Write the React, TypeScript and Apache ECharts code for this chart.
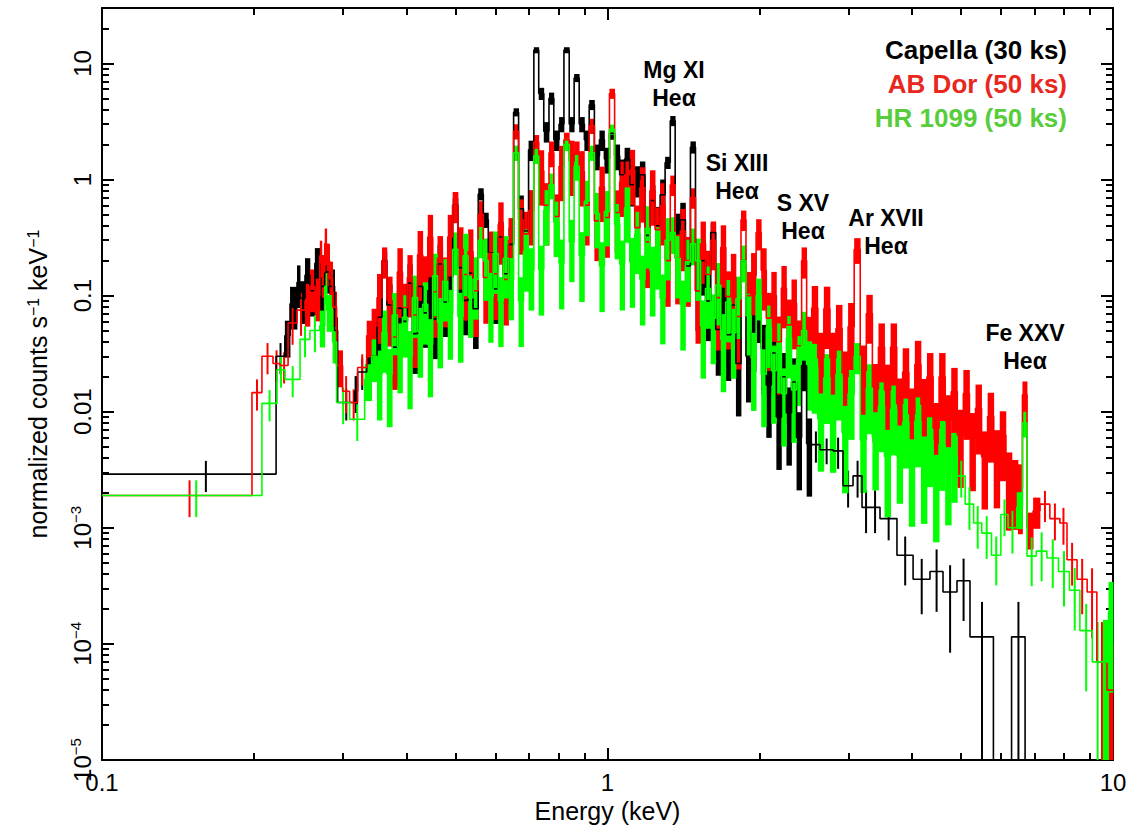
import React, { useEffect, useRef } from "react";
import * as echarts from "echarts";

// ---------- axis ticks ----------
const X_MAJOR = [0.1, 1, 10];
const Y_MAJOR = [1e-5, 1e-4, 1e-3, 0.01, 0.1, 1, 10];
const MINOR_STEPS = [2, 3, 4, 5, 6, 7, 8, 9];
const X_MINOR = [0.1, 1].flatMap((d) => MINOR_STEPS.map((m) => m * d));
const Y_MINOR = Y_MAJOR.flatMap((d) => MINOR_STEPS.map((m) => m * d)).filter((v) => v < 30);

// ---------- spectra: bin edges (keV), normalized counts s^-1 keV^-1, fractional 1-sigma errors ----------
// fine bins shared by the three spectra between 0.35 and 2.535 keV
const MID_EDGES = [
  0.350, 0.358, 0.366, 0.375, 0.384, 0.393, 0.402, 0.411, 0.421, 0.431,
  0.441, 0.451, 0.461, 0.472, 0.483, 0.494, 0.506, 0.518, 0.530, 0.542,
  0.555, 0.568, 0.581, 0.594, 0.608, 0.622, 0.637, 0.652, 0.667, 0.682,
  0.698, 0.715, 0.731, 0.748, 0.766, 0.783, 0.802, 0.820, 0.840, 0.859,
  0.879, 0.900, 0.920, 0.942, 0.964, 0.986, 1.009, 1.033, 1.057, 1.081,
  1.107, 1.132, 1.159, 1.186, 1.213, 1.242, 1.271, 1.300, 1.331, 1.361,
  1.393, 1.426, 1.459, 1.493, 1.528, 1.563, 1.600, 1.637, 1.675, 1.714,
  1.754, 1.795, 1.837, 1.879, 1.923, 1.968, 2.014, 2.061, 2.109, 2.158,
  2.208, 2.259, 2.312, 2.366, 2.421, 2.477, 2.535,
];

// Capella (30 ks)
const CAPELLA_LOW_EDGES = [0.1, 0.221, 0.23, 0.2355, 0.2431, 0.2465, 0.2521, 0.2578, 0.2637, 0.2697, 0.2758, 0.282, 0.2885, 0.2925, 0.316, 0.3204, 0.3339, 0.3415];
const CAPELLA_LOW = [0.0029, 0.03, 0.045, 0.085, 0.13, 0.095, 0.15, 0.11, 0.19, 0.12, 0.16, 0.12, 0.05, 0.012, 0.015, 0.022, 0.028, 0.03];
const CAPELLA_LOW_ERR = [0.3, 0.3, 0.35, 0.4, 0.4, 0.4, 0.4, 0.4, 0.35, 0.4, 0.35, 0.4, 0.3, 0.3, 0.35, 0.3, 0.3, 0.3];
const CAPELLA_MID = [
  0.065, 0.2, 0.083, 0.036, 0.078, 0.06, 0.128, 0.047, 0.12, 0.071,
  0.11, 0.063, 0.187, 0.088, 0.144, 0.6, 0.174, 0.091, 0.156, 0.077,
  0.75, 0.45, 0.234, 0.114, 0.32, 0.154, 0.276, 3.8, 0.56, 0.36,
  1.8, 13, 5.5, 2.6, 5.0, 2.2, 3.0, 13, 3.0, 7.5,
  3.0, 2.2, 4.4, 1.6, 2.2, 1.5, 2.5, 1.6, 1.1, 1.5,
  0.9, 1.0, 1.1, 0.33, 0.66, 0.4, 0.74, 1.4, 3.2, 0.35,
  0.45, 0.18, 1.9, 0.11, 0.2, 0.09, 0.35, 0.051, 0.1, 0.046,
  0.083, 0.026, 0.2, 0.03, 0.049, 0.06, 0.035, 0.017, 0.032, 0.009,
  0.02, 0.0098, 0.018, 0.006, 0.025, 0.0053,
];
const CAPELLA_MID_ERR = [
  0.5, 0.2, 0.5, 0.55, 0.5, 0.5, 0.45, 0.55, 0.5, 0.5, 0.45, 0.55, 0.45, 0.5, 0.45,
  0.15, 0.45, 0.5, 0.45, 0.55, 0.12, 0.15, 0.45, 0.5, 0.35, 0.45, 0.4, 0.08, 0.3, 0.4,
  0.2, 0.06, 0.12, 0.2, 0.12, 0.2, 0.15, 0.06, 0.15, 0.08, 0.15, 0.2, 0.1, 0.25, 0.2,
  0.25, 0.12, 0.25, 0.35, 0.25, 0.35, 0.3, 0.3, 0.45, 0.35, 0.45, 0.35, 0.12, 0.1, 0.45,
  0.4, 0.5, 0.12, 0.55, 0.5, 0.55, 0.2, 0.6, 0.5, 0.6, 0.5, 0.65, 0.25, 0.6, 0.55,
  0.35, 0.6, 0.65, 0.55, 0.65, 0.6, 0.65, 0.6, 0.65, 0.4, 0.65,
];
const CAPELLA_HIGH_EDGES = [2.633, 2.794, 2.924, 3.06, 3.188, 3.306, 3.46, 3.738, 4.023, 4.345, 4.61, 4.913, 5.213, 5.8, 6.3, 6.7, 6.85];
const CAPELLA_HIGH = [0.0052, 0.0047, 0.0046, 0.0023, 0.0028, 0.0015, 0.0015, 0.0012, 0.00058, 0.00036, 0.00042, 0.00028, 0.00035, 0.000115, 0.000001, 0.000115, 0.000001];
const CAPELLA_HIGH_ERR = [0.3, 0.25, 0.3, 0.35, 0.35, 0.4, 0.4, 0.35, 0.45, 0.5, 0.55, 0.7, 0.55, 1.0, 0, 1.0, 0];

// AB Dor (50 ks)
const ABDOR_LOW_EDGES = [0.1, 0.198, 0.2072, 0.2179, 0.225, 0.2334, 0.2431, 0.2521, 0.2578, 0.2637, 0.2697, 0.2722, 0.2758, 0.2783, 0.282, 0.2859, 0.2911, 0.2992, 0.3089, 0.3204, 0.3339, 0.3415];
const ABDOR_LOW = [0.0019, 0.0146, 0.03, 0.026, 0.025, 0.058, 0.075, 0.09, 0.12, 0.1, 0.22, 0.16, 0.28, 0.2, 0.14, 0.08, 0.025, 0.015, 0.012, 0.024, 0.045, 0.055];
const ABDOR_LOW_ERR = [0.35, 0.3, 0.3, 0.3, 0.3, 0.35, 0.4, 0.4, 0.4, 0.4, 0.35, 0.4, 0.35, 0.4, 0.4, 0.35, 0.35, 0.35, 0.3, 0.3, 0.35, 0.4];
const ABDOR_MID = [
  0.096, 0.2, 0.091, 0.044, 0.16, 0.079, 0.144, 0.068, 0.225, 0.136,
  0.32, 0.108, 0.21, 0.133, 0.32, 0.6, 0.25, 0.152, 0.24, 0.11,
  0.5, 0.143, 0.23, 0.154, 0.41, 0.138, 0.3, 2.6, 0.45, 0.34,
  0.54, 2.1, 1.19, 0.6, 1.7, 0.48, 1.3, 2.2, 1.44, 1.7,
  1.17, 0.6, 2.9, 0.44, 0.86, 0.47, 5.5, 0.52, 0.95, 1.1,
  1.2, 0.385, 0.85, 0.29, 0.8, 0.37, 0.6, 0.2, 0.9, 0.21,
  0.36, 0.2, 0.7, 0.11, 0.28, 0.152, 0.3, 0.096, 0.26, 0.098,
  0.143, 0.066, 0.45, 0.1, 0.15, 0.35, 0.165, 0.064, 0.1, 0.04,
  0.116, 0.056, 0.086, 0.037, 0.2, 0.041,
];
const ABDOR_MID_ERR = [
  0.6, 0.3, 0.6, 0.65, 0.6, 0.6, 0.55, 0.65, 0.6, 0.6, 0.55, 0.6, 0.55, 0.6, 0.55,
  0.3, 0.55, 0.6, 0.55, 0.6, 0.3, 0.6, 0.55, 0.6, 0.55, 0.6, 0.55, 0.15, 0.5, 0.55,
  0.5, 0.15, 0.5, 0.55, 0.25, 0.55, 0.5, 0.15, 0.5, 0.25, 0.5, 0.55, 0.15, 0.55, 0.5,
  0.55, 0.1, 0.55, 0.5, 0.3, 0.5, 0.55, 0.5, 0.6, 0.5, 0.55, 0.55, 0.6, 0.2, 0.6,
  0.55, 0.6, 0.2, 0.65, 0.55, 0.6, 0.45, 0.65, 0.55, 0.65, 0.6, 0.65, 0.2, 0.6, 0.55,
  0.3, 0.55, 0.65, 0.6, 0.65, 0.55, 0.65, 0.6, 0.65, 0.3, 0.6,
];
const ABDOR_HIGH_EDGES = [
  2.606, 2.679, 2.754, 2.831, 2.911, 2.992, 3.076, 3.162, 3.251, 3.342,
  3.436, 3.532, 3.631, 3.733, 3.837, 3.945, 4.055, 4.169, 4.285, 4.406,
  4.529, 4.656, 4.786, 4.92, 5.058, 5.2, 5.346, 5.495, 5.649, 5.808,
  5.97, 6.138, 6.31, 6.486, 6.62, 6.76, 6.95, 7.17, 7.5, 7.85,
  8.11, 8.49, 8.89, 9.29, 9.73, 10.0,
];
const ABDOR_HIGH = [
  0.078, 0.029, 0.077, 0.029, 0.052, 0.02, 0.054, 0.25, 0.0225, 0.07,
  0.0156, 0.036, 0.0154, 0.036, 0.0117, 0.022, 0.0096, 0.0255, 0.0116, 0.02,
  0.0072, 0.02, 0.0084, 0.0149, 0.0063, 0.0143, 0.0059, 0.0107, 0.0041, 0.0091,
  0.0042, 0.0063, 0.0027, 0.0024, 0.0022, 0.014, 0.001, 0.0014, 0.0016, 0.0012,
  0.0011, 0.00053, 0.00036, 0.00028, 0.00007, 0.00004,
];
const ABDOR_HIGH_ERR = [
  0.55, 0.65, 0.55, 0.65, 0.6, 0.65, 0.6, 0.25, 0.65, 0.45,
  0.65, 0.6, 0.65, 0.6, 0.65, 0.6, 0.65, 0.6, 0.65, 0.6,
  0.65, 0.6, 0.65, 0.6, 0.65, 0.6, 0.65, 0.6, 0.65, 0.6,
  0.65, 0.6, 0.65, 0.6, 0.6, 0.3, 0.35, 0.3, 0.3, 0.35,
  0.35, 0.4, 0.5, 0.6, 1.2, 1.5,
];

// HR 1099 (50 ks)
const HR1099_LOW_EDGES = [0.1, 0.2072, 0.2219, 0.2302, 0.2465, 0.2578, 0.2697, 0.2758, 0.2783, 0.2859, 0.2911, 0.3089, 0.3308, 0.3415];
const HR1099_LOW = [0.0019, 0.0118, 0.023, 0.019, 0.042, 0.05, 0.055, 0.12, 0.075, 0.04, 0.012, 0.0086, 0.019, 0.03];
const HR1099_LOW_ERR = [0.35, 0.3, 0.3, 0.3, 0.3, 0.35, 0.35, 0.3, 0.35, 0.35, 0.35, 0.35, 0.35, 0.4];
const HR1099_MID = [
  0.021, 0.048, 0.021, 0.068, 0.036, 0.065, 0.03, 0.096, 0.049, 0.084,
  0.038, 0.148, 0.059, 0.133, 0.07, 0.25, 0.066, 0.22, 0.096, 0.138,
  0.3, 0.2, 0.098, 0.23, 0.09, 0.21, 0.136, 1.7, 0.09, 0.24,
  0.165, 1.6, 0.168, 0.54, 0.9, 0.43, 0.19, 2.0, 0.29, 1.3,
  0.22, 0.65, 1.7, 0.51, 0.18, 0.53, 2.7, 0.41, 0.186, 0.57,
  0.196, 0.34, 0.138, 0.38, 0.165, 0.25, 0.095, 0.3, 0.35, 0.21,
  0.084, 0.195, 0.28, 0.2, 0.055, 0.115, 0.064, 0.123, 0.042, 0.088,
  0.048, 0.094, 0.2, 0.067, 0.029, 0.1, 0.021, 0.053, 0.0225, 0.036,
  0.0143, 0.043, 0.0154, 0.028, 0.05, 0.0255,
];
const HR1099_MID_ERR = [
  0.6, 0.55, 0.65, 0.55, 0.6, 0.55, 0.65, 0.55, 0.6, 0.55, 0.65, 0.55, 0.6, 0.55, 0.6,
  0.4, 0.6, 0.55, 0.55, 0.55, 0.3, 0.55, 0.6, 0.55, 0.6, 0.55, 0.55, 0.15, 0.6, 0.55,
  0.55, 0.15, 0.6, 0.5, 0.25, 0.5, 0.6, 0.12, 0.55, 0.25, 0.6, 0.5, 0.15, 0.5, 0.6,
  0.5, 0.1, 0.5, 0.6, 0.5, 0.6, 0.55, 0.6, 0.55, 0.6, 0.55, 0.6, 0.55, 0.35, 0.55,
  0.6, 0.55, 0.35, 0.55, 0.65, 0.55, 0.6, 0.55, 0.65, 0.55, 0.6, 0.55, 0.35, 0.55, 0.65,
  0.4, 0.65, 0.55, 0.65, 0.6, 0.65, 0.55, 0.65, 0.6, 0.45, 0.6,
];
const HR1099_HIGH_EDGES = [
  2.606, 2.679, 2.754, 2.831, 2.911, 2.992, 3.076, 3.162, 3.251, 3.342,
  3.436, 3.532, 3.631, 3.733, 3.837, 3.945, 4.055, 4.169, 4.285, 4.406,
  4.529, 4.656, 4.786, 4.92, 5.1, 5.3, 5.5, 5.75, 6.0, 6.2,
  6.45, 6.62, 6.76, 7.05, 7.4, 7.8, 8.2, 8.6, 9.1, 9.55,
  9.8, 10.0,
];
const HR1099_HIGH = [
  0.024, 0.0087, 0.0196, 0.0085, 0.021, 0.0066, 0.0143, 0.03, 0.0057, 0.016,
  0.006, 0.0112, 0.0041, 0.0105, 0.0046, 0.0081, 0.0034, 0.0083, 0.0036, 0.0056,
  0.0025, 0.0052, 0.003, 0.0041, 0.0028, 0.0016, 0.0011, 0.0009, 0.00058, 0.0013,
  0.001, 0.0015, 0.008, 0.00057, 0.00063, 0.00055, 0.00042, 0.00029, 0.00013, 0.00007,
  0.00007, 0.00019,
];
const HR1099_HIGH_ERR = [
  0.6, 0.65, 0.6, 0.65, 0.6, 0.7, 0.6, 0.3, 0.65, 0.6,
  0.65, 0.6, 0.7, 0.6, 0.65, 0.6, 0.7, 0.6, 0.7, 0.6,
  0.7, 0.6, 0.65, 0.6, 0.35, 0.4, 0.4, 0.4, 0.45, 0.35,
  0.4, 0.35, 0.25, 0.45, 0.45, 0.45, 0.5, 0.55, 0.7, 1.2,
  1.3, 0.8,
];

const SERIES_NAMES = ["Capella (30 ks)", "AB Dor (50 ks)", "HR 1099 (50 ks)"];
const LINE_COLORS = ["#000000", "#ff0000", "#00ff00"];
const LEGEND_COLORS = ["#000000", "#e8281e", "#58cd3c"];
const LINE_LABELS = [
  ["Mg XI", "Heα"],
  ["Si XIII", "Heα"],
  ["S XV", "Heα"],
  ["Ar XVII", "Heα"],
  ["Fe XXV", "Heα"],
];

const FONT = "'Liberation Sans', Arial, Helvetica, sans-serif";

const SPECTRA = [
  {
    edges: [...CAPELLA_LOW_EDGES, ...MID_EDGES, ...CAPELLA_HIGH_EDGES],
    values: [...CAPELLA_LOW, ...CAPELLA_MID, ...CAPELLA_HIGH],
    errs: [...CAPELLA_LOW_ERR, ...CAPELLA_MID_ERR, ...CAPELLA_HIGH_ERR],
  },
  {
    edges: [...ABDOR_LOW_EDGES, ...MID_EDGES, ...ABDOR_HIGH_EDGES],
    values: [...ABDOR_LOW, ...ABDOR_MID, ...ABDOR_HIGH],
    errs: [...ABDOR_LOW_ERR, ...ABDOR_MID_ERR, ...ABDOR_HIGH_ERR],
  },
  {
    edges: [...HR1099_LOW_EDGES, ...MID_EDGES, ...HR1099_HIGH_EDGES],
    values: [...HR1099_LOW, ...HR1099_MID, ...HR1099_HIGH],
    errs: [...HR1099_LOW_ERR, ...HR1099_MID_ERR, ...HR1099_HIGH_ERR],
  },
];

function tickText(v: number): string {
  const e = Math.round(Math.log10(v));
  if (e >= 0) return `{b|${Math.pow(10, e)}}`;
  if (e >= -2) return `{b|${Math.pow(10, e).toFixed(-e)}}`;
  return `{b|10}{s|−${-e}}`;
}

const RICH = {
  b: { fontSize: 24, fontFamily: FONT, color: "#000", verticalAlign: "bottom", lineHeight: 26 },
  s: { fontSize: 15, fontFamily: FONT, color: "#000", verticalAlign: "top", lineHeight: 26 },
};

// narrow bins are drawn as filled error boxes across the bin; wide bins as a thin error bar
const DENSE_BIN_PX = 7;

function spectrumSeries(idx: number) {
  const { edges, values, errs } = SPECTRA[idx];
  const color = LINE_COLORS[idx];
  const step: number[][] = values.map((v, i) => [edges[i], v]);
  step.push([edges[edges.length - 1], values[values.length - 1]]);
  const bars = values.map((v, i) => [
    (edges[i] + edges[i + 1]) / 2,
    v * (1 + errs[i]),
    Math.max(v * (1 - errs[i]), 1e-8),
    edges[i],
    edges[i + 1],
  ]);
  return [
    {
      type: "line",
      name: SERIES_NAMES[idx],
      data: step,
      step: "end",
      showSymbol: false,
      symbol: "none",
      silent: true,
      lineStyle: { color, width: 1.6 },
      emphasis: { disabled: true },
      xAxisIndex: 0,
      yAxisIndex: 0,
    },
    {
      type: "custom",
      name: SERIES_NAMES[idx] + " errors",
      data: bars,
      silent: true,
      xAxisIndex: 0,
      yAxisIndex: 0,
      encode: { x: 0, y: [1, 2] },
      renderItem: (params: any, api: any) => {
        const e = api.value(0);
        const hi = api.value(1);
        const lo = api.value(2);
        const empty = { type: "group", children: [] };
        if (!(hi > lo)) return empty;
        const a = api.coord([e, hi]);
        const b = api.coord([e, lo]);
        const cs = params.coordSys;
        const top = Math.max(a[1], cs.y);
        const bottom = Math.min(b[1], cs.y + cs.height);
        if (!(bottom > top)) return empty;
        const xl = api.coord([api.value(3), hi])[0];
        const xr = api.coord([api.value(4), hi])[0];
        if (xr - xl <= DENSE_BIN_PX) {
          return {
            type: "rect",
            shape: { x: xl, y: top, width: xr - xl + 0.4, height: bottom - top },
            style: { fill: color },
          };
        }
        return {
          type: "line",
          shape: { x1: a[0], y1: top, x2: a[0], y2: bottom },
          style: { stroke: color, lineWidth: 2 },
        };
      },
    },
  ];
}

function makeAxis(kind: "x" | "y", position: string, major: boolean, extra: any = {}) {
  const isX = kind === "x";
  return {
    type: "log",
    logBase: 10,
    min: isX ? 0.1 : 1e-5,
    max: isX ? 10 : 30,
    position,
    splitLine: { show: false },
    axisLine: { show: major, lineStyle: { color: "#000", width: 2 } },
    axisTick: {
      show: true,
      inside: true,
      length: major ? 12 : 7,
      lineStyle: { color: "#000", width: 2 },
      customValues: major ? (isX ? X_MAJOR : Y_MAJOR) : isX ? X_MINOR : Y_MINOR,
    },
    axisLabel: { show: false },
    axisPointer: { show: false },
    ...extra,
  };
}

export default function App() {
  const ref = useRef<HTMLDivElement>(null);

  useEffect(() => {
    if (!ref.current) return;
    const chart = echarts.init(ref.current, undefined, { renderer: "svg" });

    const labelPos = [
      [674, 70],
      [737, 163],
      [803, 203],
      [886, 218],
      [1025, 333],
    ];

    const graphic: any[] = [];
    SERIES_NAMES.forEach((n, i) => {
      graphic.push({
        type: "text",
        x: 1067,
        y: 50 + i * 34,
        silent: true,
        style: {
          text: n,
          fill: LEGEND_COLORS[i],
          font: `bold 26px ${FONT}`,
          align: "right",
          verticalAlign: "middle",
        },
      });
    });
    LINE_LABELS.forEach((pair, i) => {
      pair.forEach((t, j) => {
        graphic.push({
          type: "text",
          x: labelPos[i][0],
          y: labelPos[i][1] + j * 28,
          silent: true,
          style: {
            text: t,
            fill: "#000",
            font: `bold 23px ${FONT}`,
            align: "center",
            verticalAlign: "middle",
          },
        });
      });
    });

    const option: any = {
      animation: false,
      backgroundColor: "#ffffff",
      grid: { left: 102, right: 29, top: 8, bottom: 67, outerBoundsMode: "none" },
      xAxis: [
        makeAxis("x", "bottom", true, {
          axisLabel: {
            show: true,
            customValues: X_MAJOR,
            formatter: (v: number) => tickText(v),
            margin: 8,
            rich: RICH,
          },
          name: "Energy (keV)",
          nameLocation: "middle",
          nameGap: 36,
          nameTextStyle: { fontSize: 25, fontFamily: FONT, color: "#000" },
        }),
        makeAxis("x", "bottom", false),
        makeAxis("x", "top", true),
        makeAxis("x", "top", false),
      ],
      yAxis: [
        makeAxis("y", "left", true, {
          axisLabel: {
            show: true,
            customValues: Y_MAJOR,
            rotate: 90,
            formatter: (v: number) => tickText(v),
            margin: 8,
            rich: RICH,
          },
          name: "normalized counts s{s|−1} keV{s|−1}",
          nameLocation: "middle",
          nameGap: 52,
          nameTextStyle: {
            fontSize: 25,
            fontFamily: FONT,
            color: "#000",
            rich: { s: { fontSize: 16, fontFamily: FONT, color: "#000", verticalAlign: "top" } },
          },
        }),
        makeAxis("y", "left", false),
        makeAxis("y", "right", true),
        makeAxis("y", "right", false),
      ],
      series: [...spectrumSeries(0), ...spectrumSeries(1), ...spectrumSeries(2)],
      graphic,
    };

    chart.setOption(option);
    return () => chart.dispose();
  }, []);

  return (
    <div
      ref={ref}
      style={{ position: "absolute", left: 0, top: 0, width: 1142, height: 827, background: "#fff" }}
    />
  );
}
